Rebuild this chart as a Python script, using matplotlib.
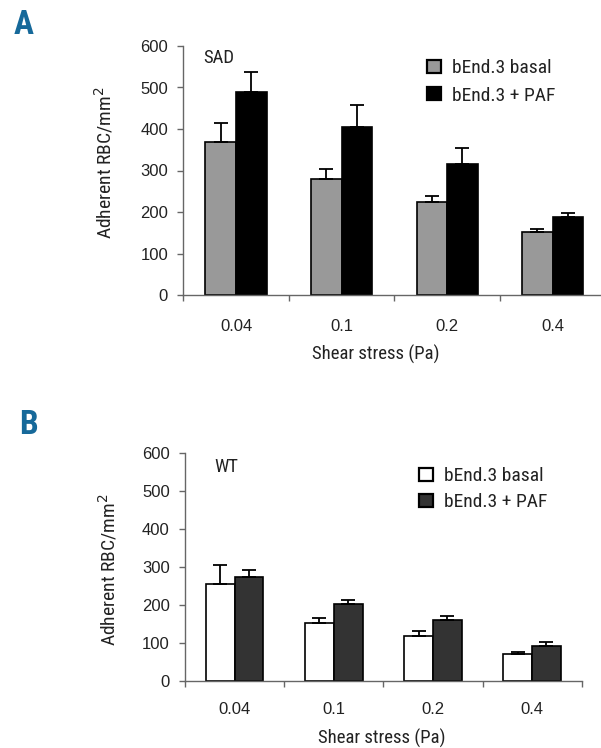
import numpy as np
import matplotlib
matplotlib.use("Agg")
import matplotlib.pyplot as plt
from matplotlib import font_manager as fm

# ---- data ----
categories = ["0.04", "0.1", "0.2", "0.4"]
series_names = ["bEnd.3 basal", "bEnd.3 + PAF"]

sad_basal = [368, 279, 223, 152]
sad_basal_err = [46, 24, 16, 7]
sad_paf = [488, 406, 315, 187]
sad_paf_err = [49, 51, 39, 11]

wt_basal = [255, 154, 119, 71]
wt_basal_err = [50, 12, 12, 5]
wt_paf = [275, 202, 161, 91]
wt_paf_err = [17, 11, 11, 12]

yticks = [0, 100, 200, 300, 400, 500, 600]

# ---- fonts ----
names = {f.name for f in fm.fontManager.ttflist}
cond = {(f.name, f.stretch) for f in fm.fontManager.ttflist}
REG = "Liberation Sans" if "Liberation Sans" in names else "DejaVu Sans"
NARROW_FAM, NARROW_STRETCH, SCALE = REG, "normal", 0.86
for nm in ["Liberation Sans Narrow", "Arial Narrow", "Roboto Condensed", "Open Sans Condensed"]:
    if nm in names:
        NARROW_FAM, NARROW_STRETCH, SCALE = nm, "normal", 1.0
        break
else:
    for nm, st in cond:
        if nm == "DejaVu Sans" and st in ("condensed", "semi-condensed"):
            NARROW_FAM, NARROW_STRETCH, SCALE = "DejaVu Sans", "condensed", 0.86
            break

plt.rcParams["font.family"] = [REG, "DejaVu Sans"]


def nfont(size, weight="normal"):
    return fm.FontProperties(family=[NARROW_FAM, "DejaVu Sans"], stretch=NARROW_STRETCH,
                             size=size * SCALE, weight=weight)


TXT = "#222222"
SPINE = "#666666"

fig = plt.figure(figsize=(6.01, 7.48), dpi=100)
W, H = 601.0, 748.0


def rect(l, r, b, t):
    return [l / W, 1 - b / H, (r - l) / W, (b - t) / H]


def panel(ax, basal, basal_err, paf, paf_err, c1, c2, tag, tagpos, legpos,
          ylab_coords, xlab_coords, xpad, legspace):
    x = np.arange(len(categories))
    w = 0.29
    zeros = np.zeros(len(categories))
    ekw = dict(lw=1.3, capthick=1.3, ecolor="black")
    b1 = ax.bar(x - w / 2, basal, w, color=c1, edgecolor="black", linewidth=1.2,
                yerr=[zeros, basal_err], capsize=5, error_kw=ekw, label=series_names[0])
    b2 = ax.bar(x + w / 2, paf, w, color=c2, edgecolor="black", linewidth=1.2,
                yerr=[zeros, paf_err], capsize=5, error_kw=ekw, label=series_names[1])
    ax.set_xlim(-0.5, len(categories) - 0.5)
    ax.set_ylim(0, 600)
    ax.set_yticks(yticks)
    ax.set_xticks(x)
    ax.set_xticklabels(categories)
    ax.set_xticks(np.arange(-0.5, len(categories)), minor=True)
    for s in ["top", "right"]:
        ax.spines[s].set_visible(False)
    for s in ["left", "bottom"]:
        ax.spines[s].set_color(SPINE)
        ax.spines[s].set_linewidth(1.0)
    ax.tick_params(axis="x", which="major", length=0, pad=xpad, labelsize=12, labelcolor=TXT)
    ax.tick_params(axis="x", which="minor", length=4.5, width=1.0, color=SPINE, direction="out")
    ax.tick_params(axis="y", length=4.5, width=1.0, color=SPINE, pad=6.5, labelsize=12,
                   labelcolor=TXT)
    ax.set_ylabel("Adherent RBC/mm$^2$", fontproperties=nfont(14), color=TXT)
    ax.yaxis.set_label_coords(*ylab_coords)
    ax.set_xlabel("Shear stress (Pa)", fontproperties=nfont(13.5), color=TXT)
    ax.xaxis.set_label_coords(*xlab_coords)
    ax.text(tagpos[0], tagpos[1], tag, transform=ax.transAxes, fontproperties=nfont(13.5),
            color=TXT, va="center", ha="left")
    leg = ax.legend(handles=[b1, b2], loc="upper left", bbox_to_anchor=legpos, frameon=False,
                    borderpad=0, borderaxespad=0, handlelength=0.7, handleheight=0.65,
                    handletextpad=0.6, labelspacing=legspace, prop=nfont(14))
    for t in leg.get_texts():
        t.set_color(TXT)
    for p in leg.get_patches():
        p.set_linewidth(1.6)


axA = fig.add_axes(rect(183.3, 605.5, 295, 46))
panel(axA, sad_basal, sad_basal_err, sad_paf, sad_paf_err, "#999999", "#000000",
      "SAD", (0.047, 0.952), (0.577, 0.948), (-0.16, 0.53), (0.456, -0.2), 17, 0.5)

axB = fig.add_axes(rect(185, 581.7, 681, 453.3))
panel(axB, wt_basal, wt_basal_err, wt_paf, wt_paf_err, "#ffffff", "#333333",
      "WT", (0.073, 0.941), (0.59, 0.938), (-0.165, 0.487), (0.496, -0.21), 15, 0.4)

fig.text(14 / W, 1 - 9 / H, "A", fontproperties=nfont(24, "bold"), color="#16699a",
         va="top", ha="left")
fig.text(19 / W, 1 - 409 / H, "B", fontproperties=nfont(24, "bold"), color="#16699a",
         va="top", ha="left")

fig.savefig("out.png", dpi=100)
